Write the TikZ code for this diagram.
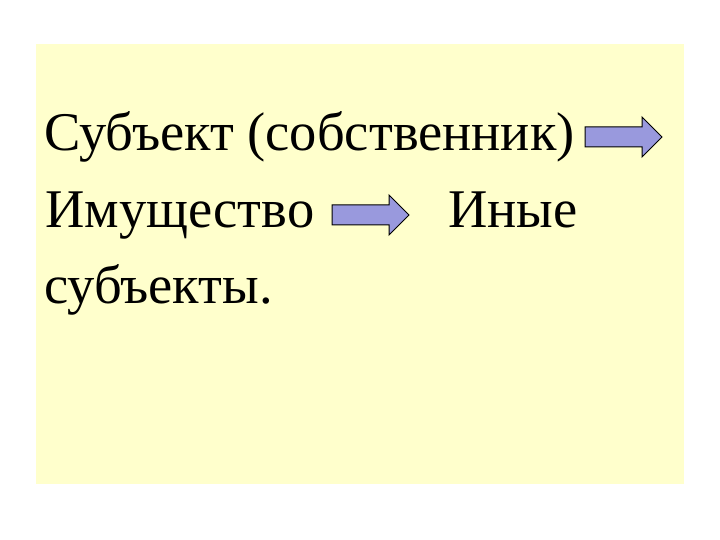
\documentclass[tikz,border=0pt]{standalone}
\usepackage{fontspec}
\setmainfont{Liberation Serif}
\definecolor{slidebg}{RGB}{255,255,204}
\definecolor{arrowfill}{RGB}{153,153,221}
\begin{document}
\begin{tikzpicture}[x=1pt, y=-1pt]
    % Define styles
    \tikzset{
        textline/.style={font=\fontsize{54.5}{65}\selectfont, anchor=base west, inner sep=0pt},
        blockarrow/.pic={
            \draw[fill=arrowfill, line width=1pt, line join=miter]
                (0,-10) -- (57,-10) -- (57,-20) -- (77,0) -- (57,20) -- (57,10) -- (0,10) -- cycle;
        }
    }
    \useasboundingbox (0,0) rectangle (720,540);

    % Slide background
    \fill[slidebg] (36,44) rectangle (684,484);

    % Text lines
    \node[textline] (subj) at (44,151) {Субъект (собственник)};
    \node[textline] (prop) at (45,228) {Имущество};
    \node[textline] (other) at (448,228) {Иные};
    \node[textline] (subjs) at (44,303) {субъекты.};

    % Block arrows
    \pic at (585,137) {blockarrow};
    \pic at (332,215) {blockarrow};
\end{tikzpicture}
\end{document}
